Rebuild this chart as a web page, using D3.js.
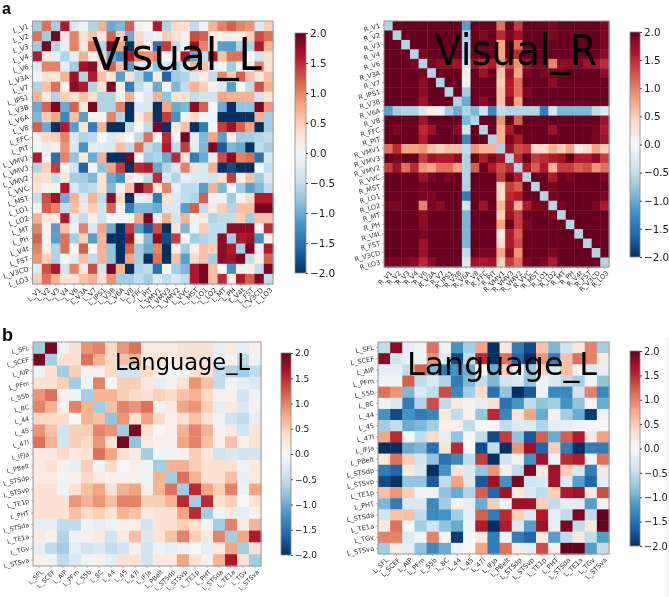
<!DOCTYPE html>
<html><head><meta charset="utf-8">
<script src="https://cdnjs.cloudflare.com/ajax/libs/d3/7.8.5/d3.min.js"></script>
<style>html,body{margin:0;padding:0;background:#fff}svg{display:block;filter:blur(0.45px)}text{font-family:"DejaVu Sans",sans-serif}</style>
</head><body><svg id="c" width="669" height="597"></svg>
<script>
const visualNames=["V1","V2","V3","V4","V6","V3A","V7","IPS1","V3B","V6A","V8","FFC","PIT","VMV1","VMV3","VMV2","VVC","MST","LO1","LO2","MT","PH","V4t","FST","V3CD","LO3"];
const languageNames=["SFL","SCEF","AIP","PFm","55b","8C","44","45","47l","IFJa","PBelt","STSdp","STSvp","TE1p","PHT","STSda","TE1a","TGv","STSva"];
const colorTicks=[2,1.5,1,.5,0,-.5,-1,-1.5,-2];
const rdbuStops=["#053061","#2166ac","#4393c3","#92c5de","#d1e5f0","#f7f7f7","#fddbc7","#f4a582","#d6604d","#b2182b","#67001f"];
const visualL=[
[-.7,1.1,-.7,1.6,-.3,-.1,-.6,.7,-1,-.9,1.2,.1,0,1.6,-.6,.4,.3,-.5,-.1,.7,1,1.2,1,.9,-.3,.5],
[1.1,-.7,1.9,.2,1,.3,.6,.2,1.2,.5,-1,.4,-.2,-.1,.5,.3,.1,1.3,1.2,.2,.1,.1,.1,.5,1.3,1.1],
[-.7,1.9,-.6,-.2,1,.2,1.1,-.6,1.9,.8,-2,.5,.1,-1.5,1.4,-.5,-.1,1.7,1,.2,-1.1,-1.1,-.6,-.6,1.6,.7],
[1.6,.2,-.2,-.6,-.2,.7,.1,.5,-1,-1.3,1.6,1,.9,1,0,.2,1.6,-1,-.5,1.6,.6,1.1,1.1,0,-.4,.3],
[-.3,1,1,-.2,-.7,1.7,1.8,.3,1.2,.6,-1.1,-.3,-.3,-.8,-.4,-.7,-.3,.7,.6,-.2,-.1,-.7,0,-.2,1,.3],
[-.1,.3,.2,.7,1.7,-.6,1.6,.6,.2,-1.1,.3,-.6,-1.2,.2,-1.6,-.7,-.6,-.3,.2,-.5,1,.5,1.2,.6,.2,.6],
[-.6,.6,1.1,.1,1.8,1.6,-.6,.3,1.9,.1,-1.4,-.5,-.2,-1,0,-.9,-.5,.7,.5,.1,-.3,-1.1,0,-.5,1.3,.7],
[.7,.2,-.6,.5,.3,.6,.3,-.6,-.6,-.1,.7,0,-.3,.7,-.8,.3,.3,-.5,-.4,-.4,.8,.7,.7,.7,-.4,.3],
[-1,1.2,1.9,-1,1.2,.2,1.9,-.6,-.6,1,-2,-.3,-.3,-2,.8,-1,-.9,1.8,1.2,0,-1,-2,-.8,-.8,1.9,.9],
[-.9,.5,.8,-1.3,.6,-1.1,.1,-.1,1,-.6,-2,.2,.6,-2,1.4,-1.2,.1,.4,-.05,-.05,-2,-2,-2,-2,.7,-.7],
[1.2,-1,-2,1.6,-1.1,.3,-1.4,.7,-2,-2,-.5,0,-.5,1.9,-2,.2,.6,-2,-1.4,0,1.4,1.7,1.2,.8,-2,-.7],
[.1,.4,.5,1,-.3,-.6,-.5,0,-.3,.2,0,-.5,1.1,0,1.5,-.1,1.9,-.2,-.9,.8,-1.1,.1,-.7,-.7,-.6,-.5],
[0,-.2,.1,.9,-.3,-1.2,-.2,-.3,-.3,.6,-.5,1.1,-.5,-.7,1.6,-.5,1.4,-.2,-.9,1.9,-1.7,-.9,-1,-2,-.5,-.7],
[1.6,-.1,-1.5,1,-.8,.2,-1,.7,-2,-2,1.9,0,-.7,-.6,-1,1.5,.2,-1.4,-1,-.2,1.3,1.8,1,1.1,-1.5,-.3],
[-.6,.5,1.4,0,-.4,-1.6,0,-.8,.8,1.4,-2,1.5,1.6,-1,-.6,-.3,1,.3,-.3,.7,-2,-1.8,-2,-2,0,-.5],
[.4,.3,-.5,.2,-.7,-.7,-.9,.3,-1,-1.2,.2,-.1,-.5,1.5,-.3,-.6,-.2,-.3,-.3,-.4,.3,1.4,.1,.6,-.7,-.3],
[.3,.1,-.1,1.6,-.3,-.6,-.5,.3,-.9,.1,.6,1.9,1.4,.2,1,-.2,-.5,-.5,-1.1,.7,-.9,0,-.7,-1.1,-.9,-.5],
[-.5,1.3,1.7,-1,.7,-.3,.7,-.5,1.8,.4,-2,-.2,-.2,-1.4,.3,-.3,-.5,-.6,1.2,-.1,-.1,-.7,.1,.4,1.6,1.6],
[-.1,1.2,1,-.5,.6,.2,.5,-.4,1.2,-.05,-1.4,-.9,-.9,-1,-.3,-.3,-1.1,1.2,-.5,.2,.5,-.6,.6,.6,1.9,1.9],
[.7,.2,.2,1.6,-.2,-.5,.1,-.4,0,-.05,0,.8,1.9,-.2,.7,-.4,.7,-.1,.2,-.6,-.5,-.5,.5,-.7,.6,.6],
[1,.1,-1.1,.6,-.1,1,-.3,.8,-1,-2,1.4,-1.1,-1.7,1.3,-2,.3,-.9,-.1,.5,-.5,-.5,1.8,1.8,1.8,0,1.5],
[1.2,.1,-1.1,1.1,-.7,.5,-1.1,.7,-2,-2,1.7,.1,-.9,1.8,-1.8,1.4,0,-.7,-.6,-.5,1.8,-.7,1.6,1.7,-1.2,.1],
[1,.1,-.6,1.1,0,1.2,0,.7,-.8,-2,1.2,-.7,-1,1,-2,.1,-.7,.1,.6,.5,1.8,1.6,-.7,1.9,.1,1.6],
[.9,.5,-.6,0,-.2,.6,-.5,.7,-.8,-2,.8,-.7,-2,1.1,-2,.6,-1.1,.4,.6,-.7,1.8,1.7,1.9,-.5,.1,1.2],
[-.3,1.3,1.6,-.4,1,.2,1.3,-.4,1.9,.7,-2,-.6,-.5,-1.5,0,-.7,-.9,1.6,1.9,.6,0,-1.2,.1,.1,-.5,1.9],
[.5,1.1,.7,.3,.3,.6,.7,.3,.9,-.7,-.7,-.5,-.7,-.3,-.5,-.3,-.5,1.6,1.9,.6,1.5,.1,1.6,1.2,1.9,-.5]];
const visualR=[
[-.6,2,2,2,2,2,2,2,2,-1.1,2,2,2,1.1,2,1.4,2,2,2,1.9,2,2,2,2,2,1.9],
[2,-.6,2,2,2,2,2,2,2,-.7,2,1.9,2,1.5,1.9,1.7,2,2,2,1.9,2,2,2,2,2,1.9],
[2,2,-.6,2,2,2,2,2,2,-.6,2,2,2,.8,2,1.1,2,2,2,2,2,2,2,2,2,1.9],
[2,2,2,-.6,1.9,2,2,2,2,-.6,2,2,2,.8,2,1.5,2,2,2,2,2,2,2,2,2,1.8],
[2,2,2,1.9,-.6,1.9,1.8,1.8,1.7,-.35,1.7,1.5,1.6,.9,1.4,.9,1.7,1.9,1.9,1,1.8,1.8,1.9,1.7,1.7,1.5],
[2,2,2,2,1.9,-.6,2,2,2,.15,2,1.7,2,.6,1.7,.8,1.9,2,1.9,1.9,2,2,2,2,2,1.8],
[2,2,2,2,1.8,2,-.6,2,2,-.1,2,2,2,.5,1.6,1.1,2,2,2,1.8,2,2,2,2,2,2],
[2,2,2,2,1.8,2,2,-.6,2,-.7,2,2,2,.6,1.6,1.1,1.9,2,2,2,2,2,2,2,2,2],
[2,2,2,2,1.7,2,2,2,-.6,-1,2,1.8,2,.6,1.8,.8,2,2,2,2,2,2,2,2,2,2],
[-1.1,-.7,-.6,-.6,-.35,.15,-.1,-.7,-1,-.6,-.9,-.4,-1.3,-.5,-.6,-.6,-.6,-.6,-1.4,-.4,-.9,-.9,-.9,-.9,-.5,-.3],
[2,2,2,2,1.7,2,2,2,2,-.9,-.6,2,2,.9,2,1.2,2,2,2,2,2,2,2,2,2,1.7],
[2,1.9,2,2,1.5,1.7,2,2,1.8,-.4,2,-.6,2,.7,1.6,2,2,2,2,1.7,2,2,2,2,1.9,1.6],
[2,2,2,2,1.6,2,2,2,2,-1.3,2,2,-.6,.7,1.9,1.6,2,2,2,2,2,2,2,2,1.9,1.7],
[1.1,1.5,.8,.8,.9,.6,.5,.6,.6,-.5,.9,.7,.7,-.6,1.7,1.3,1.4,.4,.4,.7,.5,.8,.2,.4,.8,.5],
[2,1.9,2,2,1.4,1.7,1.6,1.6,1.8,-.6,2,1.6,1.9,1.7,-.6,1.5,2,1.4,1.5,1.6,1.7,2,1.6,1.6,1.8,1.4],
[1.4,1.7,1.1,1.5,.9,.8,1.1,1.1,.8,-.6,1.2,2,1.6,1.3,1.5,-.6,1.6,1.2,1.6,.7,1.4,1.4,1.2,1.3,.9,1.1],
[2,2,2,2,1.7,1.9,2,1.9,2,-.6,2,2,2,1.4,2,1.6,-.6,2,2,1.6,2,1.9,2,2,2,1.9],
[2,2,2,2,1.9,2,2,2,2,-.6,2,2,2,.4,1.4,1.2,2,-.6,2,1.9,2,2,2,2,2,2],
[2,2,2,2,1.9,1.9,2,2,2,-1.4,2,2,2,.4,1.5,1.6,2,2,-.6,1.9,2,2,2,2,2,1.9],
[1.9,1.9,2,2,1,1.9,1.8,2,2,-.4,2,1.7,2,.7,1.6,.7,1.6,1.9,1.9,-.6,1.9,2,2,2,1.9,1.6],
[2,2,2,2,1.8,2,2,2,2,-.9,2,2,2,.5,1.7,1.4,2,2,2,1.9,-.6,2,2,2,2,2],
[2,2,2,2,1.8,2,2,2,2,-.9,2,2,2,.8,2,1.4,1.9,2,2,2,2,-.6,2,2,2,2],
[2,2,2,2,1.9,2,2,2,2,-.9,2,2,2,.2,1.6,1.2,2,2,2,2,2,2,-.6,2,2,2],
[2,2,2,2,1.7,2,2,2,2,-.9,2,2,2,.4,1.6,1.3,2,2,2,2,2,2,2,-.6,2,2],
[2,2,2,2,1.7,2,2,2,2,-.5,2,1.9,1.9,.8,1.8,.9,2,2,2,1.9,2,2,2,2,-.6,2],
[1.9,1.9,1.9,1.8,1.5,1.8,2,2,2,-.3,1.7,1.6,1.7,.5,1.4,1.1,1.9,2,1.9,1.6,2,2,2,2,2,-.6]];
const languageA=[
[-.7,1.9,-.1,.3,.9,1,.4,.9,1.1,.2,.2,.2,.3,.3,.3,-.2,.2,-.2,.1],
[1.9,-.7,.3,.3,1.1,.7,.4,.6,.7,.2,.3,.2,.3,.3,.3,-.2,.1,-.5,-.1],
[-.1,.3,-.7,.5,.1,.1,.4,-.4,-.4,.4,.1,-.1,-.1,.3,.3,-.5,-.6,-.7,-.5],
[.3,.3,.5,-.7,-.1,1,0,.5,.5,.2,-.2,.1,.3,.9,.6,-.5,-.1,-.2,-.3],
[.9,1.1,.1,-.1,-.7,.7,.7,.5,.4,.3,.5,.4,.6,.7,.4,-.1,.1,-.4,-.1],
[1,.7,.1,1,.7,-.7,.6,1,.9,1.1,-.1,.2,.8,.9,.5,-.2,.2,-.3,.1],
[.4,.4,.4,0,.7,.6,-.8,.9,.3,.8,.4,.1,.3,.6,.3,-.1,-.4,-.5,-.2],
[.9,.6,-.4,.5,.5,1,.9,-.7,1.9,.3,0,.1,.7,1,.7,.1,.2,-.4,.3],
[1.1,.7,-.4,.5,.4,.9,.3,1.9,-.8,.2,.1,.1,.8,1,.6,.1,.6,.1,.3],
[.2,.2,.4,.2,.3,1.1,.8,.3,.2,-.7,-.1,-.1,.1,.5,.2,-.4,-.3,-.4,-.4],
[.2,.3,.1,-.2,.5,-.1,.4,0,.1,-.1,-.7,.7,.7,.5,.3,.3,.3,-.1,.2],
[.2,.2,-.1,.1,.4,.2,.1,.1,.1,-.1,.7,-.7,1.1,.7,.3,.3,.6,-.2,.2],
[.3,.3,-.1,.3,.6,.8,.3,.7,.8,.1,.7,1.1,-.7,1.5,.8,.5,1,-.1,.8],
[.3,.3,.3,.9,.7,.9,.6,1,1,.5,.5,.7,1.5,-.7,1.5,.3,.5,0,.3],
[.3,.3,.3,.6,.4,.5,.3,.7,.6,.2,.3,.3,.8,1.5,-.7,-.1,.2,-.2,.1],
[-.2,-.2,-.5,-.5,-.1,-.2,-.1,.1,.1,-.4,.3,.3,.5,.3,-.1,-.7,1,.2,.7],
[.2,.1,-.6,-.1,.1,.2,-.4,.2,.6,-.3,.3,.6,1,.5,.2,1,-.7,.8,1.6],
[-.2,-.5,-.7,-.2,-.4,-.3,-.5,-.4,.1,-.4,-.1,-.2,-.1,0,-.2,.2,.8,-.7,.3],
[.1,-.1,-.5,-.3,-.1,.1,-.2,.3,.3,-.4,.2,.2,.8,.3,.1,.7,1.6,.3,-.7]];
const languageB=[
[-.5,1.8,-.2,-.1,1.1,-.1,-1.2,-.7,.8,-2,.2,-1.4,-1.8,.6,-.9,-.4,.2,1,-.7],
[1.8,-.4,-.2,-.1,.9,-.3,-1.8,-.5,1.5,-2,1.1,-1.6,-2,.9,-1.4,.6,1.1,1,.2],
[-.2,-.2,-.5,1.2,-.9,-1.4,-1.2,-1,0,-1,.5,.2,-.8,.5,-.3,.6,0,-.3,-.2],
[-.1,-.1,1.2,-.5,-.3,-.6,-1.4,-.9,-.5,-.9,-.4,-.3,-.8,-.1,-.3,-.5,-.7,-.1,-.8],
[1.1,.9,-.9,-.3,-.5,1.3,-1.3,-.7,.4,-1.5,-.8,-2,-1.7,-.1,-1.3,-1.3,-.4,1,-1.3],
[-.1,-.3,-1.4,-.6,1.3,-.5,.2,.1,-.2,.3,-1.5,-1.2,-.5,-.8,-.7,-1.2,-.8,-.05,-1],
[-1.2,-1.8,-1.2,-1.4,-1.3,.2,-.5,.1,-.8,1.5,-1.3,.3,.8,-1,.1,-.7,-1,-1.9,-.1],
[-.7,-.5,-1,-.9,-.7,.1,.1,-.5,0,0,-.5,-.3,-.3,-.6,-.2,-.2,-.1,0,0],
[.8,1.5,0,-.5,.4,-.2,-.8,0,-.5,-1.8,1.4,-.8,-1.7,1.2,-1,1.2,1.6,.2,.8],
[-2,-2,-1,-.9,-1.5,.3,1.5,0,-1.8,-.5,-2,.9,1.7,-1.6,.5,-1.4,-2,-1.4,-1.4],
[.2,1.1,.5,-.4,-.8,-1.5,-1.3,-.5,1.4,-2,-.4,.1,-1.2,1.7,-.1,1.5,1.6,-.1,1.1],
[-1.4,-1.6,.2,-.3,-2,-1.2,.3,-.3,-.8,.9,.1,-.5,1.9,.2,1.7,.5,-.3,-1.4,.2],
[-1.8,-2,-.8,-.8,-1.7,-.5,.8,-.3,-1.7,1.7,-1.2,1.9,-.4,-.3,1.7,-.3,-1.1,-1.6,-.2],
[.6,.9,.5,-.1,-.1,-.8,-1,-.6,1.2,-1.6,1.7,.2,-.3,-.5,.5,1.6,1.7,.2,1.3],
[-.9,-1.4,-.3,-.3,-1.3,-.7,.1,-.2,-1,.5,-.1,1.7,1.7,.5,-.5,-.2,-.2,-1.1,.1],
[-.4,.6,.6,-.5,-1.3,-1.2,-.7,-.2,1.2,-1.4,1.5,.5,-.3,1.6,-.2,-.5,1.9,-.5,2],
[.2,1.1,0,-.7,-.4,-.8,-1,-.1,1.6,-2,1.6,-.3,-1.1,1.7,-.2,1.9,-.5,.2,2],
[1,1,-.3,-.1,1,-.05,-1.9,0,.2,-1.4,-.1,-1.4,-1.6,.2,-1.1,-.5,.2,-.5,-1.1],
[-.7,.2,-.2,-.8,-1.3,-1,-.1,0,.8,-1.4,1.1,.2,-.2,1.3,.1,2,2,-1.1,-.5]];

const panels=[
 {m:visualL,names:visualNames,p:"L_",box:[32.5,273,21,284],bar:[295,306,33,273],title:"Visual_L",tx:92,ty:70,ts:44,tw:170,lab:6.8,cb:10.4,rotY:18},
 {m:visualR,names:visualNames,p:"R_",box:[384,609,21,267],bar:[630,640,32,257],title:"Visual_R",tx:435,ty:65,ts:43,tw:162,lab:6.6,cb:10.4,rotY:15},
 {m:languageA,names:languageNames,p:"L_",box:[33,261,342,566],bar:[281,291,353,555],title:"Language_L",tx:115,ty:370,ts:23,tw:135,lab:6.3,cb:9,rotY:14},
 {m:languageB,names:languageNames,p:"L_",box:[378,609,342,554],bar:[630,640,351,546],title:"Language_L",tx:407,ty:375,ts:32,tw:190,lab:6.6,cb:9.8,rotY:11}];
const svg=d3.select("#c");
const color=d3.scaleLinear().domain(d3.range(11).map(i=>-2+i*.4)).range(rdbuStops).interpolate(d3.interpolateRgb).clamp(true);
const defs=svg.append("defs");
const grad=defs.append("linearGradient").attr("id","cbg").attr("x1",0).attr("x2",0).attr("y1",1).attr("y2",0);
rdbuStops.forEach((c,i)=>grad.append("stop").attr("offset",i*10+"%").attr("stop-color",c));
svg.append("rect").attr("x",666).attr("y",337).attr("width",3).attr("height",260).attr("fill","#f6f6f6");

panels.forEach(P=>{
  const [x0,x1,y0,y1]=P.box;
  const labels=P.names.map(n=>P.p+n);
  const x=d3.scaleBand().domain(labels).range([x0,x1]);
  const y=d3.scaleBand().domain(labels).range([y0,y1]);
  const g=svg.append("g");
  P.m.forEach((row,r)=>{
    g.selectAll(null).data(row).join("rect")
      .attr("x",(d,c)=>x(labels[c])).attr("y",y(labels[r]))
      .attr("width",x.bandwidth()+.4).attr("height",y.bandwidth()+.4)
      .attr("fill",d=>color(d));
  });
  g.append("rect").attr("x",x0).attr("y",y0).attr("width",x1-x0).attr("height",y1-y0).attr("fill","none").attr("stroke","#9a9a9a").attr("stroke-width",1);
  const ax=g.append("g").attr("transform",`translate(0,${y1})`).call(d3.axisBottom(x).tickSize(2).tickPadding(1.5));
  ax.select(".domain").remove();
  ax.selectAll("text").attr("font-size",P.lab).attr("fill","#333").attr("text-anchor","end").attr("dy",0)
    .attr("transform","translate(2,4) rotate(-45)");
  const ay=g.append("g").attr("transform",`translate(${x0},0)`).call(d3.axisLeft(y).tickSize(2).tickPadding(2));
  ay.select(".domain").remove();
  ay.selectAll("text").attr("font-size",P.lab).attr("fill","#333").attr("dy","0.32em")
    .attr("transform",`rotate(${-P.rotY} -4 0)`);
  g.selectAll(".tick line").attr("stroke","#888").attr("stroke-width",.6);
  const [bx0,bx1,by0,by1]=P.bar;
  const cy=d3.scaleLinear().domain([-2,2]).range([by1,by0]);
  g.append("rect").attr("x",bx0).attr("y",by0).attr("width",bx1-bx0).attr("height",by1-by0).attr("fill","url(#cbg)").attr("stroke","#888").attr("stroke-width",.8);
  const ac=g.append("g").attr("transform",`translate(${bx1},0)`).call(d3.axisRight(cy).tickValues(colorTicks).tickFormat(d3.format(".1f")).tickSize(2).tickPadding(2));
  ac.select(".domain").remove();
  ac.selectAll("text").attr("font-size",P.cb).attr("fill","#222");
  ac.selectAll("line").attr("stroke","#444");
  g.append("text").text(P.title).attr("x",P.tx).attr("y",P.ty).attr("font-size",P.ts).attr("fill","#000").attr("textLength",P.tw).attr("lengthAdjust","spacingAndGlyphs");
});
svg.append("text").text("a").attr("x",2).attr("y",14).attr("font-size",16).attr("font-weight","bold").style("font-family","'Liberation Sans',sans-serif");
svg.append("text").text("b").attr("x",2).attr("y",341).attr("font-size",18).attr("font-weight","bold").style("font-family","'Liberation Sans',sans-serif");
</script></body></html>
